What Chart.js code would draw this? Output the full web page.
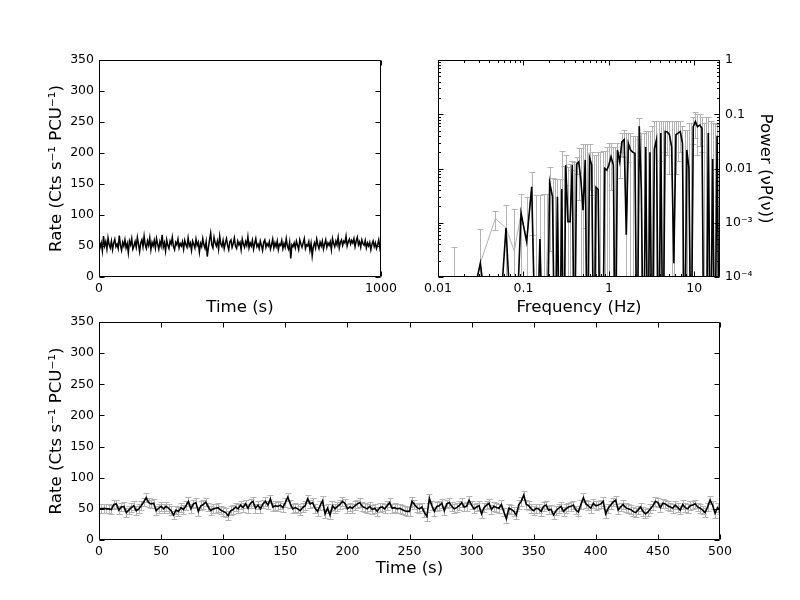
<!DOCTYPE html>
<html>
<head>
<meta charset="utf-8">
<script src="https://cdn.jsdelivr.net/npm/chart.js@4.4.1/dist/chart.umd.min.js"></script>
<style>
  html, body { margin: 0; padding: 0; background: #fff; }
  #wrap { position: relative; width: 800px; height: 600px; overflow: hidden; background: #fff; }
  canvas { position: absolute; }
  #lc1 { left: 0; top: 0; }
  #ps { left: 400px; top: 0; }
  #lc2 { left: 0; top: 300px; }
</style>
</head>
<body>
<div id="wrap">
  <canvas id="lc2" width="800" height="300"></canvas>
  <canvas id="lc1" width="420" height="330"></canvas>
  <canvas id="ps" width="400" height="330"></canvas>
</div>
<script>
// full light curve, 4 s bins
const lcBinLong = 4;
const lcRateLong = [
  60, 48, 55, 42, 66, 50, 57, 45, 63, 52, 47, 58, 44, 55, 61, 49, 53, 46, 67, 51, 43, 56, 50, 60, 47,
  54, 39, 58, 52, 62, 45, 50, 57, 48, 64, 53, 41, 55, 60, 49, 66, 52, 46, 58, 51, 63, 44, 56, 50, 59,
  47, 62, 53, 45, 57, 50, 68, 48, 55, 42, 60, 51, 46, 58, 53, 64, 49, 44, 56, 52, 61, 47, 54, 50, 57,
  45, 59, 52, 48, 63, 50, 55, 43, 58, 53, 47, 61, 51, 56, 40, 54, 49, 62, 52, 46, 57, 33, 48, 60, 71,
  52, 47, 64, 55, 50, 58, 45, 66, 53, 49, 59, 46, 55, 62, 51, 44, 57, 60, 48, 54, 63, 50, 46, 58, 52,
  56, 44, 61, 53, 48, 57, 51, 65, 47, 55, 50, 59, 45, 54, 62, 49, 53, 46, 58, 51, 43, 56, 60, 48, 54,
  50, 57, 45, 52, 61, 47, 55, 49, 58, 44, 53, 51, 59, 46, 54, 48, 62, 50, 45, 56, 30, 52, 49, 55, 47,
  58, 51, 44, 60, 53, 48, 55, 62, 46, 52, 50, 57, 43, 54, 34, 49, 55, 47, 61, 52, 46, 56, 50, 58, 45,
  53, 60, 48, 55, 51, 57, 44, 62, 54, 49, 58, 52, 64, 47, 56, 60, 51, 58, 55, 66, 50, 57, 61, 53, 59,
  55, 62, 49, 58, 64, 52, 57, 48, 60, 54, 51, 59, 47, 55, 50, 56, 44, 53, 58, 49, 55, 46, 52, 60, 47,
  57
];

// first 500 s, 2 s bins
const lcBinShort = 2;
const lcRateShort = [
  51, 50, 51, 50, 50, 49, 57, 58, 48, 53, 54, 44, 48, 52, 55, 47, 50, 55, 61, 68,
  60, 58, 59, 47, 51, 54, 50, 54, 51, 47, 40, 48, 46, 52, 49, 55, 62, 50, 58, 60,
  46, 55, 57, 61, 53, 47, 50, 51, 52, 48, 46, 44, 39, 47, 49, 53, 50, 56, 52, 58,
  51, 59, 62,
  51, 56, 50, 58, 62, 56, 66, 53, 55, 54, 56, 52, 60, 69, 58, 50, 52, 50, 47, 52,
  55, 66, 58, 60, 51, 46, 55, 63, 42, 51, 40, 55, 50, 54, 57, 62, 59, 50, 53, 51,
  55, 58, 60, 54, 52, 50, 54, 49, 51, 46, 52, 53, 50, 55, 60, 51, 52, 50, 51, 49,
  47, 46,
  46, 62, 57, 52, 50, 53, 44, 38, 67, 55, 46, 54, 55, 59, 47, 58, 60, 54, 50, 52,
  55, 60, 53, 54, 64, 56, 50, 53, 55, 42, 52, 56, 59, 49, 54, 52, 51, 57, 45, 34,
  51, 49, 46, 40, 57, 62, 72, 57, 55, 50, 47, 51, 50, 46, 54, 56, 48, 49, 40, 47,
  51, 54, 46,
  50, 53, 54, 56, 48, 45, 57, 68, 58, 55, 51, 59, 55, 56, 58, 62, 42, 51, 56, 61,
  64, 48, 53, 57, 52, 50, 49, 46, 44, 48, 53, 46, 42, 45, 50, 55, 62, 60, 52, 59,
  58, 55, 53, 51, 56, 52, 48, 57, 52, 50, 55, 56, 58, 53, 51, 48, 44, 53, 64, 56,
  43, 52, 48
];
const lcErrShort = 7;

// power spectrum (negative values fall below the log axis)
const psFreq = [
  0.0156, 0.0313, 0.0469, 0.0625, 0.0781, 0.0938, 0.109, 0.125, 0.141, 0.156,
  0.172, 0.188, 0.203, 0.219, 0.234, 0.25, 0.266, 0.281, 0.297, 0.313,
  0.332, 0.352, 0.373, 0.395, 0.419, 0.444, 0.471, 0.499, 0.529, 0.561,
  0.594, 0.63, 0.668, 0.708, 0.75, 0.795, 0.843, 0.894, 0.947, 1.0,
  1.06, 1.13, 1.19, 1.26, 1.34, 1.42, 1.51, 1.6, 1.69, 1.79,
  1.9, 2.02, 2.14, 2.27, 2.4, 2.55, 2.7, 2.86, 3.03, 3.21,
  3.41, 3.61, 3.83, 4.06, 4.3, 4.56, 4.83, 5.12, 5.43, 5.76,
  6.1, 6.47, 6.86, 7.27, 7.7, 8.17, 8.66, 9.18, 9.73, 10.3,
  10.9, 11.6, 12.3, 13.0, 13.8, 14.6, 15.5, 16.4, 17.4, 18.5,
  19.6
];
const psLine = [
  -0.001, 0.00018, -0.001, 0.0008, -0.001, 0.0015, 0.00045, 0.0046, -0.002, 0.0005,
  -0.002, -0.002, 0.0055, 0.003, -0.002, 0.003, -0.002, 0.0042, -0.002, 0.0115,
  0.00105, 0.00105, 0.0116, -0.002, 0.012, 0.0133, 0.006, 0.0017, 0.0144, -0.003,
  0.016, 0.0116, -0.003, 0.0045, 0.0041, -0.003, -0.003, 0.01, 0.0093, 0.0116,
  0.0165, 0.0116, -0.003, 0.022, 0.0133, 0.031, 0.034, 0.0006, 0.029, 0.022,
  0.02, 0.019, -0.004, 0.06, 0.004, -0.004, 0.025, -0.004, 0.02, -0.004,
  0.023, 0.034, -0.004, 0.045, -0.004, 0.048, 0.047, 0.042, 0.025, 0.00018,
  0.042, 0.045, 0.048, 0.029, -0.004, 0.022, 0.01, -0.004, 0.059, 0.073,
  0.059, 0.063, 0.055, -0.004, -0.004, 0.045, -0.004, 0.015, -0.004, 0.04,
  -0.004
];
const psPower = [
  -0.0002, 0.00018, 0.0012, 0.0008, 0.0003, 0.0015, 0.00045, 0.0046, -0.0005, 0.0005,
  -0.0005, 0.0002, 0.0055, 0.003, -0.002, 0.003, -0.002, 0.0042, -0.002, 0.0115,
  0.00105, 0.00105, 0.0116, -0.002, 0.012, 0.0133, 0.006, 0.0017, 0.0144, -0.003,
  0.016, 0.0116, -0.003, 0.0045, 0.0041, -0.003, -0.003, 0.01, 0.0093, 0.0116,
  0.0165, 0.0116, -0.003, 0.022, 0.0133, 0.031, 0.034, 0.0006, 0.029, 0.022,
  0.02, 0.019, -0.004, 0.06, 0.004, -0.004, 0.025, -0.004, 0.02, -0.004,
  0.023, 0.034, -0.004, 0.045, -0.004, 0.048, 0.047, 0.042, 0.025, 0.00018,
  0.042, 0.045, 0.048, 0.029, -0.004, 0.022, 0.01, -0.004, 0.059, 0.073,
  0.059, 0.063, 0.055, -0.004, -0.004, 0.045, -0.004, 0.015, -0.004, 0.04,
  -0.004
];
// top of each grey error bar
const psUpper = [
  0.00035, 0.00078, 0.00165, 0.0021, 0.0018, 0.0034, 0.003, 0.0086, 0.0032, 0.0033,
  0.0034, 0.0034, 0.0107, 0.0068, 0.0063, 0.0063, 0.0065, 0.021, 0.011, 0.018,
  0.0107, 0.012, 0.014, 0.013, 0.016, 0.024, 0.024, 0.028, 0.028, 0.028,
  0.028, 0.02, 0.018, 0.018, 0.02, 0.02, 0.021, 0.021, 0.025, 0.029,
  0.029, 0.025, 0.025, 0.03, 0.02, 0.045, 0.052, 0.045, 0.045, 0.045,
  0.04, 0.04, 0.04, 0.085, 0.045, 0.045, 0.05, 0.05, 0.05, 0.06,
  0.076, 0.076, 0.076, 0.076, 0.076, 0.076, 0.076, 0.076, 0.076, 0.076,
  0.076, 0.076, 0.076, 0.06, 0.052, 0.052, 0.07, 0.07, 0.09, 0.11,
  0.1, 0.1, 0.09, 0.07, 0.09, 0.09, 0.075, 0.07, 0.07, 0.065,
  0.06
];

const rateTicks = [0, 50, 100, 150, 200, 250, 300, 350];
const lcLongTicks = [0, 1000];
const psFreqTicks = [0.01, 0.1, 1, 10];
const psFreqLabels = ['0.01', '0.1', '1', '10'];
const psPowerTicks = [1e-4, 1e-3, 0.01, 0.1, 1];
const psPowerLabels = ['10\u207B\u2074', '10\u207B\u00B3', '0.01', '0.1', '1'];

const GREY = '#b3b3b3';
const TICK_FONT = { family: "'DejaVu Sans'", size: 12.5 };
const TITLE_FONT = { family: "'DejaVu Sans'", size: 16.6 };
const RATE_TITLE = 'Rate (Cts s\u207B\u00B9 PCU\u207B\u00B9)';

Chart.defaults.font.family = "'DejaVu Sans'";
Chart.defaults.color = '#000';

// below-zero points get pushed far under a log axis
const onLog = v => (v > 0 ? v : 1e-6);

function minorLog(min, max) {
  const out = [];
  for (let e = Math.floor(Math.log10(min)); e <= Math.ceil(Math.log10(max)); e++) {
    for (let k = 2; k <= 9; k++) {
      const v = k * Math.pow(10, e);
      if (v > min && v < max) out.push(v);
    }
  }
  return out;
}

// box round the plot + inward ticks on all four sides
const framePlugin = {
  id: 'frame',
  afterDatasetsDraw(chart) {
    const { ctx, chartArea: a, scales: { x, y } } = chart;
    const L = a.left + 0.5, R = a.right - 0.5, T = a.top + 0.5, B = a.bottom - 0.5;
    ctx.save();
    ctx.strokeStyle = '#000';
    ctx.lineWidth = 1;
    ctx.beginPath();
    const tickX = (v, len) => {
      const p = Math.round(x.getPixelForValue(v)) + 0.5;
      ctx.moveTo(p, B); ctx.lineTo(p, B - len);
      ctx.moveTo(p, T); ctx.lineTo(p, T + len);
    };
    const tickY = (v, len) => {
      const p = Math.round(y.getPixelForValue(v)) + 0.5;
      ctx.moveTo(L, p); ctx.lineTo(L + len, p);
      ctx.moveTo(R, p); ctx.lineTo(R - len, p);
    };
    x.ticks.forEach(t => tickX(t.value, 5));
    y.ticks.forEach(t => tickY(t.value, 5));
    if (x.type === 'logarithmic') minorLog(x.min, x.max).forEach(v => tickX(v, 2.5));
    if (y.type === 'logarithmic') minorLog(y.min, y.max).forEach(v => tickY(v, 2.5));
    ctx.rect(L, T, R - L, B - T);
    ctx.stroke();
    ctx.restore();
  }
};

// grey error bars, read from dataset.errLo / dataset.errHi
const errorBarPlugin = {
  id: 'errbars',
  beforeDatasetsDraw(chart) {
    const { ctx, chartArea: a, scales: { x, y } } = chart;
    const isLog = y.type === 'logarithmic';
    ctx.save();
    ctx.beginPath();
    ctx.rect(a.left, a.top, a.right - a.left, a.bottom - a.top);
    ctx.clip();
    chart.data.datasets.forEach(ds => {
      if (!ds.errHi) return;
      const cap = ds.errCap || 3;
      ctx.strokeStyle = ds.errColor || GREY;
      ctx.lineWidth = 1;
      ctx.beginPath();
      ds.data.forEach((pt, i) => {
        const hi = ds.errHi[i], lo = ds.errLo[i];
        if (isLog && !(hi > 0)) return;
        const px = Math.round(x.getPixelForValue(pt.x)) + 0.5;
        const yHi = Math.round(y.getPixelForValue(hi)) + 0.5;
        const loOk = !isLog || lo > 0;
        const yLo = loOk ? Math.round(y.getPixelForValue(lo)) + 0.5 : a.bottom + 10;
        ctx.moveTo(px, yLo); ctx.lineTo(px, yHi);
        ctx.moveTo(px - cap, yHi); ctx.lineTo(px + cap, yHi);
        if (loOk) { ctx.moveTo(px - cap, yLo); ctx.lineTo(px + cap, yLo); }
      });
      ctx.stroke();
    });
    ctx.restore();
  }
};

const noGrid = { display: false, drawTicks: false };
const noBorder = { display: false };
const common = {
  responsive: false,
  animation: false,
  events: [],
  plugins: { legend: { display: false }, tooltip: { enabled: false } }
};

// top left: whole light curve
new Chart(document.getElementById('lc1'), {
  type: 'line',
  data: {
    datasets: [{
      data: lcRateLong.map((r, i) => ({ x: i * lcBinLong, y: r })),
      borderColor: '#000', borderWidth: 1.5, pointRadius: 0, tension: 0
    }]
  },
  options: {
    ...common,
    layout: { padding: { top: 60, right: 39, left: 0, bottom: 0 } },
    scales: {
      x: {
        type: 'linear', min: 0, max: 1000,
        grid: noGrid, border: noBorder,
        afterBuildTicks: s => { s.ticks = lcLongTicks.map(v => ({ value: v })); },
        afterFit: s => { s.height = 53; },
        ticks: { font: TICK_FONT, padding: 4, maxRotation: 0, autoSkip: false,
                 callback: v => String(v) },
        title: { display: true, text: 'Time (s)', font: TITLE_FONT, padding: { top: 0, bottom: 12 } }
      },
      y: {
        min: 0, max: 350,
        grid: noGrid, border: noBorder,
        afterBuildTicks: s => { s.ticks = rateTicks.map(v => ({ value: v })); },
        afterFit: s => { s.width = 99; },
        ticks: { font: TICK_FONT, padding: 5 },
        title: { display: true, text: RATE_TITLE, font: TITLE_FONT, padding: { top: 47, bottom: 0 } }
      }
    }
  },
  plugins: [framePlugin]
});

// top right: power spectrum
new Chart(document.getElementById('ps'), {
  type: 'line',
  data: {
    datasets: [
      {
        data: psFreq.map((f, i) => ({ x: f, y: onLog(psLine[i]) })),
        borderColor: '#000', borderWidth: 1.6, pointRadius: 0, tension: 0, order: 0
      },
      {
        data: psFreq.map((f, i) => ({ x: f, y: onLog(psPower[i]) })),
        borderColor: GREY, borderWidth: 1, pointRadius: 0, tension: 0, order: 1,
        errHi: psUpper,
        errLo: psPower.map((v, i) => 2 * v - psUpper[i]),
        errCap: 3
      }
    ]
  },
  options: {
    ...common,
    layout: { padding: { top: 60, right: 0, left: 38, bottom: 0 } },
    scales: {
      x: {
        type: 'logarithmic', min: 0.01, max: 20,
        grid: noGrid, border: noBorder,
        afterBuildTicks: s => { s.ticks = psFreqTicks.map(v => ({ value: v })); },
        afterFit: s => { s.height = 53; },
        ticks: { font: TICK_FONT, padding: 4, maxRotation: 0, autoSkip: false,
                 callback: (v, i) => psFreqLabels[i] },
        title: { display: true, text: 'Frequency (Hz)', font: TITLE_FONT, padding: { top: 0, bottom: 12 } }
      },
      y: {
        type: 'logarithmic', position: 'right', min: 1e-4, max: 1,
        grid: noGrid, border: noBorder,
        afterBuildTicks: s => { s.ticks = psPowerTicks.map(v => ({ value: v })); },
        afterFit: s => { s.width = 80; },
        ticks: { font: TICK_FONT, padding: 5, autoSkip: false,
                 callback: (v, i) => psPowerLabels[i] },
        title: { display: true, text: 'Power (\u03BDP(\u03BD))', font: TITLE_FONT, padding: { top: 25, bottom: 0 } }
      }
    }
  },
  plugins: [errorBarPlugin, framePlugin]
});

// bottom: first 500 s with error bars
new Chart(document.getElementById('lc2'), {
  type: 'line',
  data: {
    datasets: [{
      data: lcRateShort.map((r, i) => ({ x: i * lcBinShort, y: r })),
      borderColor: '#000', borderWidth: 1.6, pointRadius: 0, tension: 0,
      errHi: lcRateShort.map(r => r + lcErrShort),
      errLo: lcRateShort.map(r => r - lcErrShort),
      errCap: 3
    }]
  },
  options: {
    ...common,
    layout: { padding: { top: 22, right: 80, left: 0, bottom: 0 } },
    scales: {
      x: {
        type: 'linear', min: 0, max: 500,
        grid: noGrid, border: noBorder,
        afterFit: s => { s.height = 60; },
        ticks: { font: TICK_FONT, padding: 4, stepSize: 50, maxRotation: 0, autoSkip: false },
        title: { display: true, text: 'Time (s)', font: TITLE_FONT, padding: { top: 0, bottom: 21 } }
      },
      y: {
        min: 0, max: 350,
        grid: noGrid, border: noBorder,
        afterBuildTicks: s => { s.ticks = rateTicks.map(v => ({ value: v })); },
        afterFit: s => { s.width = 99; },
        ticks: { font: TICK_FONT, padding: 5 },
        title: { display: true, text: RATE_TITLE, font: TITLE_FONT, padding: { top: 47, bottom: 0 } }
      }
    }
  },
  plugins: [errorBarPlugin, framePlugin]
});
</script>
</body>
</html>
